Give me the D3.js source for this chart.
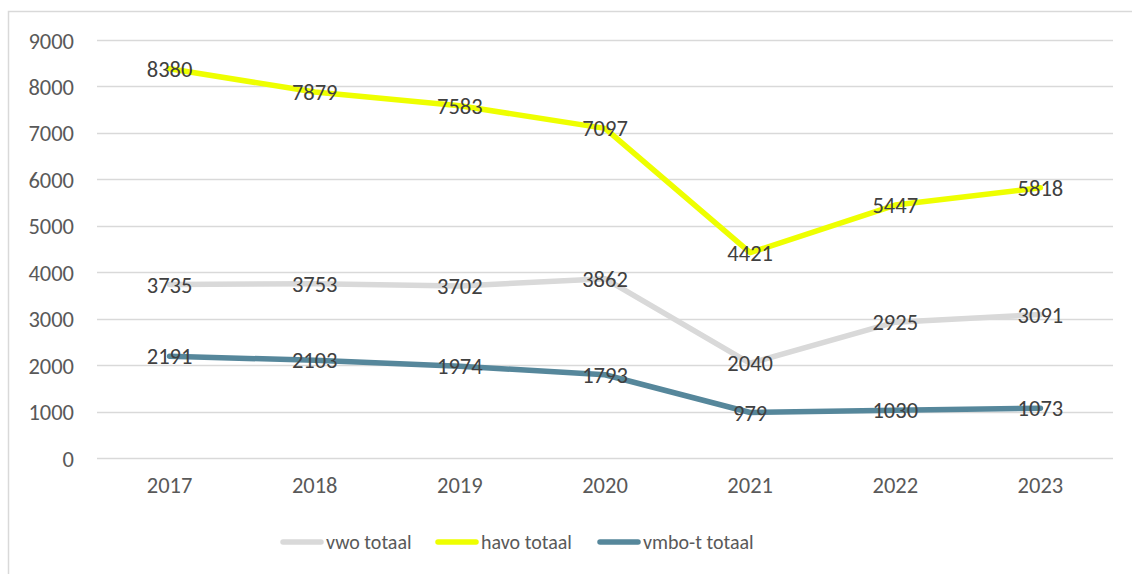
<!DOCTYPE html>
<html>
<head>
<meta charset="utf-8">
<script src="https://cdn.jsdelivr.net/npm/d3@7"></script>
<style>
  html, body { margin: 0; padding: 0; background: #fff; }
  svg { display: block; }
  text { font-family: Carlito, Lato, "Liberation Sans", sans-serif; }
</style>
</head>
<body>
<svg id="chart" width="1132" height="574"></svg>
<script>
const years = ["2017", "2018", "2019", "2020", "2021", "2022", "2023"];
const vwo = [3735, 3753, 3702, 3862, 2040, 2925, 3091];
const havo = [8380, 7879, 7583, 7097, 4421, 5447, 5818];
const vmbo = [2191, 2103, 1974, 1793, 979, 1030, 1073];
const yTicks = [0, 1000, 2000, 3000, 4000, 5000, 6000, 7000, 8000, 9000];
const seriesNames = ["vwo totaal", "havo totaal", "vmbo-t totaal"];
const seriesColors = ["#d9d9d9", "#eeff00", "#56879b"];

const series = [vwo, havo, vmbo].map((vals, i) => ({ name: seriesNames[i], color: seriesColors[i], values: vals }));

const svg = d3.select("#chart");
const W = 1132, H = 574;
const plot = { left: 97, right: 1113, top: 40, bottom: 458 };
const numFont = "22.5px";

// frame
svg.append("path")
  .attr("d", `M8.5,${H} L8.5,11.5 L${W},11.5`)
  .attr("fill", "none").attr("stroke", "#d9d9d9").attr("stroke-width", 1.5);

const x = d3.scaleBand().domain(years).range([plot.left, plot.right]);
const y = d3.scaleLinear().domain([0, 9000]).range([plot.bottom, plot.top]);

// gridlines
svg.append("g").selectAll("line").data(yTicks).join("line")
  .attr("x1", plot.left).attr("x2", plot.right)
  .attr("y1", d => Math.round(y(d)) + 0.5).attr("y2", d => Math.round(y(d)) + 0.5)
  .attr("stroke", "#d9d9d9").attr("stroke-width", 1.3);

// y axis labels
const yAxis = d3.axisLeft(y).tickValues(yTicks).tickSize(0).tickPadding(0).tickFormat(d3.format("d"));
const gy = svg.append("g").attr("transform", `translate(74,0)`).call(yAxis);
gy.select(".domain").remove();
gy.selectAll("text").attr("fill", "#595959").style("font-size", numFont)
  .style("font-family", "Carlito, Lato, 'Liberation Sans', sans-serif").attr("dy", "0.36em");

// x axis labels
const xAxis = d3.axisBottom(x).tickSize(0).tickPadding(0);
const gx = svg.append("g").attr("transform", `translate(0,${plot.bottom + 19})`).call(xAxis);
gx.select(".domain").remove();
gx.selectAll("text").attr("fill", "#595959").style("font-size", numFont)
  .style("font-family", "Carlito, Lato, 'Liberation Sans', sans-serif").attr("dy", "0.71em");

const cx = d => x(d) + x.bandwidth() / 2;
const line = d3.line().x((d, i) => cx(years[i])).y(d => y(d));

// lines
svg.append("g").selectAll("path").data(series).join("path")
  .attr("d", s => line(s.values))
  .attr("fill", "none").attr("stroke", s => s.color).attr("stroke-width", 5.5)
  .attr("stroke-linejoin", "round").attr("stroke-linecap", "round");

// data labels
series.forEach(s => {
  svg.append("g").selectAll("text").data(s.values).join("text")
    .attr("x", (d, i) => cx(years[i]))
    .attr("y", d => y(d))
    .attr("dy", "0.36em")
    .attr("text-anchor", "middle")
    .attr("fill", "#404040").style("font-size", numFont)
    .text(d => d);
});

// legend
const legendX = [280, 435, 597];
const lg = svg.append("g");
series.forEach((s, i) => {
  lg.append("line").attr("x1", legendX[i] + 3).attr("x2", legendX[i] + 41)
    .attr("y1", 542).attr("y2", 542)
    .attr("stroke", s.color).attr("stroke-width", 5.5).attr("stroke-linecap", "round");
  lg.append("text").attr("x", legendX[i] + 46).attr("y", 542).attr("dy", "0.36em")
    .attr("fill", "#595959").style("font-size", "20px").text(s.name);
});
</script>
</body>
</html>
